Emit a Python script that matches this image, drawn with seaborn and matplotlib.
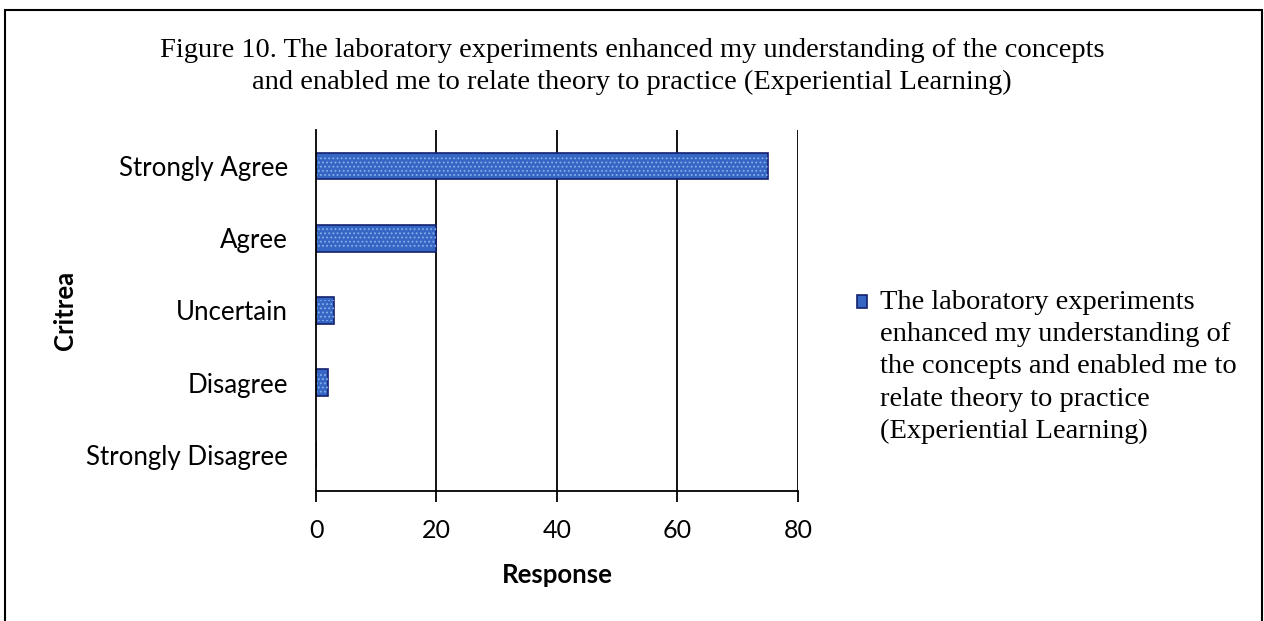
import matplotlib
matplotlib.use("Agg")
import matplotlib.pyplot as plt
import seaborn as sns
import pandas as pd
from matplotlib.patches import Rectangle
from matplotlib.container import BarContainer
from matplotlib.legend_handler import HandlerPatch, update_from_first_child

categories = ["Strongly Agree", "Agree", "Uncertain", "Disagree", "Strongly Disagree"]
responses = [75, 20, 3, 2, 0]
x_ticks = [0, 20, 40, 60, 80]
series_label = ("The laboratory experiments\nenhanced my understanding of\n"
                "the concepts and enabled me to\nrelate theory to practice\n"
                "(Experiential Learning)")
title_text = ("Figure 10. The laboratory experiments enhanced my understanding of the concepts\n"
              "and enabled me to relate theory to practice (Experiential Learning)")

sns.set_style("white")
plt.rcParams["font.family"] = ["Lato", "DejaVu Sans"]
plt.rcParams["hatch.linewidth"] = 0.8

df = pd.DataFrame({"Critrea": categories, "Response": responses})

fig = plt.figure(figsize=(12.64, 6.21), dpi=100)
ax = fig.add_axes([0.25, 0.2093, 0.3813, 0.5814])

sns.barplot(data=df, x="Response", y="Critrea", order=categories, orient="h",
            color="#3566c4", edgecolor="#15216e", linewidth=1.2, width=0.37,
            saturation=1, ax=ax, label=series_label)
# speckled texture overlay
sns.barplot(data=df, x="Response", y="Critrea", order=categories, orient="h",
            facecolor="none", edgecolor="#86aeea", linewidth=0, width=0.30,
            hatch="....", saturation=1, ax=ax)

ax.set_xlim(0, 80)
ax.set_ylim(4.5, -0.5)
ax.set_xticks(x_ticks)
ax.set_xticklabels([str(t) for t in x_ticks])
for t in x_ticks[1:]:
    ax.axvline(t, color="black", lw=1.3, zorder=0)

for side in ["top", "right"]:
    ax.spines[side].set_visible(False)
for side in ["left", "bottom"]:
    ax.spines[side].set_color("black")
    ax.spines[side].set_linewidth(1.3)

ax.tick_params(axis="x", which="major", bottom=True, length=8, width=1.3,
               direction="out", pad=12, labelsize=18, colors="black")
ax.tick_params(axis="y", left=False, pad=16.5, labelsize=18.6, colors="black")

ax.set_xlabel("Response", fontsize=18.5, fontweight="bold", labelpad=15.5, color="black")
ax.set_ylabel("Critrea", fontsize=18.5, fontweight="bold", labelpad=7, color="black")

fig.text(0.5, 0.893, title_text, ha="center", va="center", color="black",
         fontsize=20.5, family=["Liberation Serif"], linespacing=1.35)

line_px = 32.5
shift_pt = 2 * line_px * 0.72


def top_square(legend, orig_handle, xdescent, ydescent, width, height, fontsize):
    return Rectangle((-xdescent, -ydescent + shift_pt), width, height)


leg = ax.legend(loc="upper left", bbox_to_anchor=(0.667, 0.556),
                bbox_transform=fig.transFigure, frameon=False,
                prop={"family": "Liberation Serif", "size": 20.5},
                handlelength=0.33, handleheight=0.33, handletextpad=0.45,
                borderpad=0, labelspacing=0,
                handler_map={
                    BarContainer: HandlerPatch(patch_func=top_square,
                                               update_func=update_from_first_child),
                    Rectangle: HandlerPatch(patch_func=top_square)})
for txt in leg.get_texts():
    txt.set_linespacing(1.38)
    txt.set_color("black")
for h in leg.legend_handles:
    h.set_edgecolor("#15216e")

fig.patches.append(Rectangle((5 / 1264, -0.05), (1262 - 5) / 1264, 1.05 - 10 / 621,
                             transform=fig.transFigure, fill=False,
                             edgecolor="black", lw=1.5))

fig.savefig("out.png", dpi=100)
